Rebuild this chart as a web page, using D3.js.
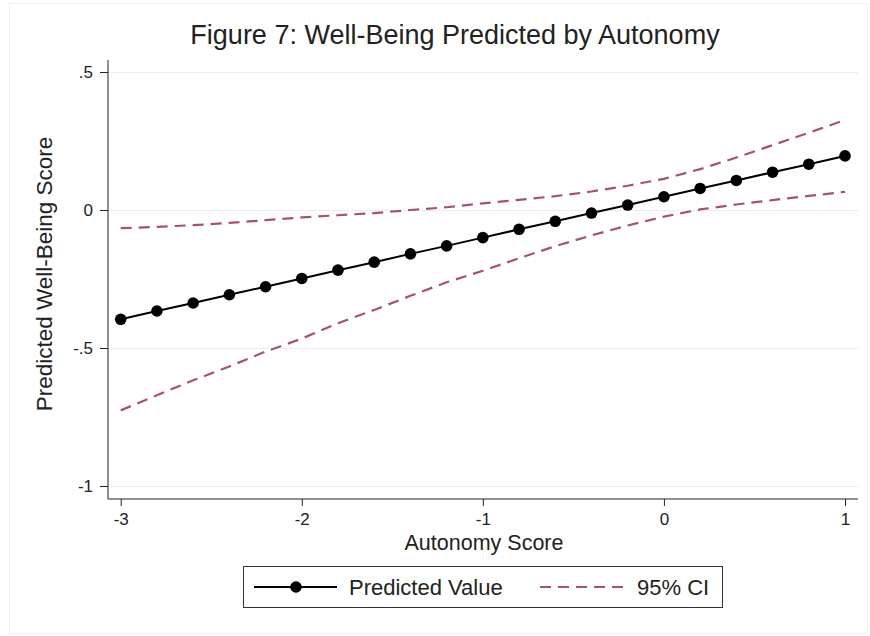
<!DOCTYPE html>
<html>
<head>
<meta charset="utf-8">
<script src="https://cdn.jsdelivr.net/npm/d3@7"></script>
<style>
  html, body { margin: 0; padding: 0; background: #fff; }
  svg { display: block; font-family: "Liberation Sans", Arial, sans-serif; }
  .grid line { stroke: #ececec; stroke-width: 1; }
  .axis path, .axis line { stroke: #222; stroke-width: 1; }
  .axis text { fill: #222; font-size: 17px; }
</style>
</head>
<body>
<div id="container"></div>
<script>
// values
const autonomy = [-3, -2.8, -2.6, -2.4, -2.2, -2, -1.8, -1.6, -1.4, -1.2, -1,
                  -0.8, -0.6, -0.4, -0.2, 0, 0.2, 0.4, 0.6, 0.8, 1];
const predicted = [-0.396, -0.366, -0.337, -0.307, -0.278, -0.248, -0.218, -0.189, -0.159, -0.130, -0.100,
                   -0.070, -0.041, -0.011, 0.018, 0.048, 0.078, 0.107, 0.137, 0.166, 0.196];
const ciUpper = [-0.066, -0.061, -0.055, -0.047, -0.037, -0.027, -0.019, -0.011, 0.000, 0.010, 0.024,
                 0.037, 0.050, 0.067, 0.088, 0.113, 0.148, 0.190, 0.235, 0.280, 0.326];
const ciLower = [-0.726, -0.671, -0.617, -0.567, -0.513, -0.466, -0.410, -0.362, -0.311, -0.262, -0.220,
                 -0.175, -0.131, -0.092, -0.056, -0.024, 0.002, 0.020, 0.036, 0.051, 0.066];
const xTicks = [-3, -2, -1, 0, 1];
const yTicks = [0.5, 0, -0.5, -1];

const title = 'Figure 7: Well-Being Predicted by Autonomy';
const xTitle = 'Autonomy Score';
const yTitle = 'Predicted Well-Being Score';
const legendLabels = ['Predicted Value', '95% CI'];

const width = 870;
const height = 636;
const ciColor = '#a5526f';

const svg = d3.select('#container')
              .append('svg')
              .attr('width', width)
              .attr('height', height);

// faint outer frame of the graph region
svg.append('rect')
   .attr('x', 9.5).attr('y', 3.5)
   .attr('width', 858).attr('height', 630)
   .attr('fill', 'none')
   .attr('stroke', '#efefef');

const axisLeftX = 108;
const axisBottomY = 499;
const axisTopY = 60;
const axisRightX = 858;

const x = d3.scaleLinear().domain([-3, 1]).range([120.7, 845]);
const y = d3.scaleLinear().domain([-1, 0.5]).range([486, 72]);

// horizontal grid
svg.append('g')
   .attr('class', 'grid')
   .attr('transform', `translate(${axisLeftX}, 0)`)
   .call(d3.axisLeft(y).tickValues(yTicks).tickSize(-(axisRightX - axisLeftX)).tickFormat(''))
   .call((g) => g.select('.domain').remove());

// axes
const fmtY = (d) => d === 0 ? '0' : d3.format('.1~f')(d).replace('0.', '.').replace('−', '-');
const yAxis = svg.append('g')
   .attr('class', 'axis')
   .attr('transform', `translate(${axisLeftX}, 0)`)
   .call(d3.axisLeft(y).tickValues(yTicks).tickSize(8).tickPadding(7).tickFormat(fmtY));
yAxis.select('.domain').attr('d', `M0,${axisTopY}V${axisBottomY}`);

const xAxis = svg.append('g')
   .attr('class', 'axis')
   .attr('transform', `translate(0, ${axisBottomY})`)
   .call(d3.axisBottom(x).tickValues(xTicks).tickSize(7).tickPadding(7)
           .tickFormat((d) => String(d)));
xAxis.select('.domain').attr('d', `M${axisLeftX},0H${axisRightX}`);

// CI lines
const points = autonomy.map((a, i) => ({x: a, p: predicted[i], hi: ciUpper[i], lo: ciLower[i]}));
const chart = svg.append('g');
['hi', 'lo'].forEach((key) => {
  chart.append('path')
       .datum(points)
       .attr('fill', 'none')
       .attr('stroke', ciColor)
       .attr('stroke-width', 2.2)
       .attr('stroke-dasharray', '11,7')
       .attr('d', d3.line().x((d) => x(d.x)).y((d) => y(d[key])));
});

// predicted line with markers
chart.append('path')
     .datum(points)
     .attr('fill', 'none')
     .attr('stroke', '#000')
     .attr('stroke-width', 2)
     .attr('d', d3.line().x((d) => x(d.x)).y((d) => y(d.p)));
chart.selectAll('circle.pt')
     .data(points)
     .enter()
     .append('circle')
     .attr('class', 'pt')
     .attr('cx', (d) => x(d.x))
     .attr('cy', (d) => y(d.p))
     .attr('r', 5.8)
     .attr('fill', '#000');

// titles
svg.append('text')
   .attr('x', 455).attr('y', 44)
   .attr('text-anchor', 'middle')
   .style('font-size', '27px')
   .attr('fill', '#222')
   .text(title);
svg.append('text')
   .attr('x', 484).attr('y', 550)
   .attr('text-anchor', 'middle')
   .style('font-size', '21.5px')
   .attr('fill', '#222')
   .text(xTitle);
svg.append('text')
   .attr('transform', 'translate(52, 274) rotate(-90)')
   .attr('text-anchor', 'middle')
   .style('font-size', '22.5px')
   .attr('fill', '#222')
   .text(yTitle);

// legend
const legend = svg.append('g').attr('transform', 'translate(243, 566)');
legend.append('rect')
      .attr('x', 0.5).attr('y', 0.5)
      .attr('width', 479).attr('height', 41)
      .attr('fill', '#fff')
      .attr('stroke', '#333');
legend.append('line')
      .attr('x1', 11).attr('x2', 94).attr('y1', 21).attr('y2', 21)
      .attr('stroke', '#000').attr('stroke-width', 2);
legend.append('circle')
      .attr('cx', 53).attr('cy', 21).attr('r', 5.8).attr('fill', '#000');
legend.append('text')
      .attr('x', 106).attr('y', 29)
      .style('font-size', '22px').attr('fill', '#222')
      .text(legendLabels[0]);
legend.append('line')
      .attr('x1', 297).attr('x2', 382).attr('y1', 21).attr('y2', 21)
      .attr('stroke', ciColor).attr('stroke-width', 2)
      .attr('stroke-dasharray', '11,7');
legend.append('text')
      .attr('x', 394).attr('y', 29)
      .style('font-size', '22px').attr('fill', '#222')
      .text(legendLabels[1]);
</script>
</body>
</html>
